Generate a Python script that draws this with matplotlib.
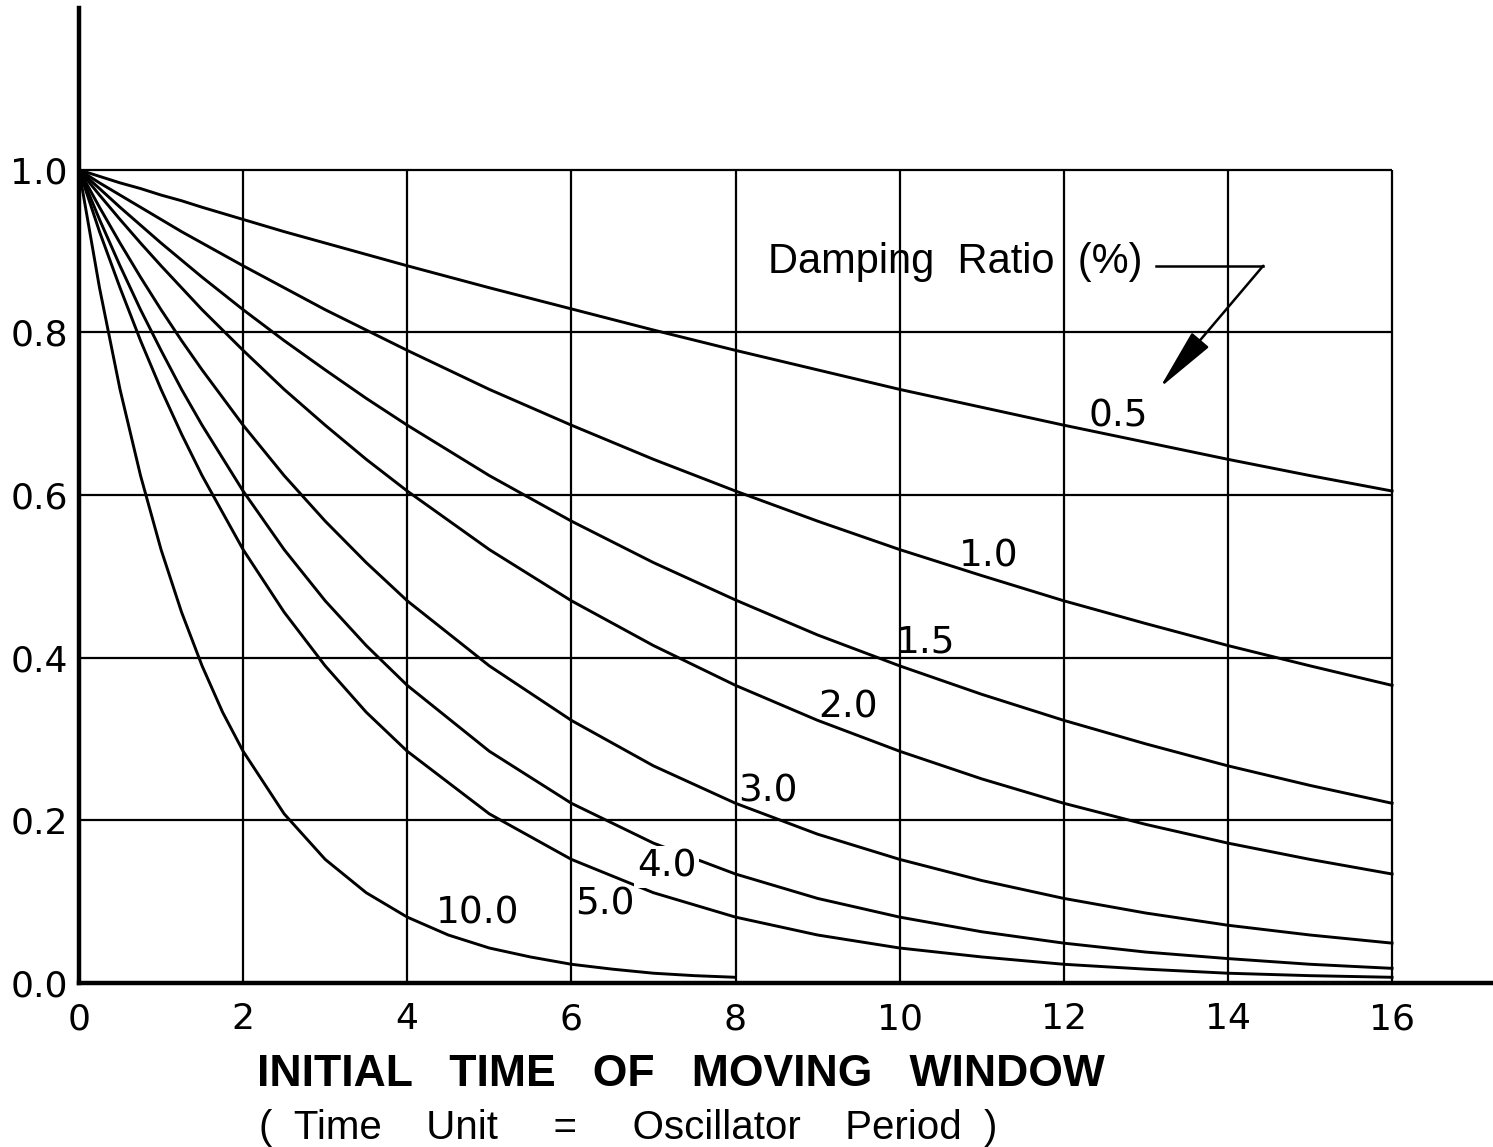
import matplotlib
matplotlib.use("Agg")
import matplotlib.pyplot as plt

# time grid (oscillator periods) and normalized curves
t = [0, 0.25, 0.5, 0.75, 1, 1.25, 1.5, 2, 2.5, 3, 3.5, 4,
     5, 6, 7, 8, 9, 10, 11, 12, 13, 14, 15, 16]
z05 = [1.000, .992, .984, .977, .969, .962, .954, .939, .924, .910, .896, .882,
       .855, .829, .803, .778, .754, .730, .708, .686, .665, .644, .624, .605]
z10 = [1.000, .984, .969, .954, .939, .924, .910, .882, .855, .828, .803, .778,
       .730, .686, .644, .605, .568, .533, .501, .470, .442, .415, .390, .366]
z15 = [1.000, .977, .954, .932, .910, .889, .868, .828, .790, .754, .719, .686,
       .624, .568, .517, .471, .428, .390, .355, .323, .294, .267, .243, .221]
z20 = [1.000, .969, .939, .910, .882, .855, .828, .778, .730, .686, .644, .605,
       .533, .470, .415, .366, .323, .285, .251, .221, .195, .172, .152, .134]
z30 = [1.000, .954, .910, .868, .828, .790, .754, .686, .624, .568, .517, .470,
       .390, .323, .267, .221, .183, .152, .126, .104, .086, .071, .059, .049]
z40 = [1.000, .939, .882, .828, .778, .730, .686, .605, .533, .470, .415, .366,
       .285, .221, .172, .134, .104, .081, .063, .049, .038, .030, .023, .018]
z50 = [1.000, .924, .855, .790, .730, .675, .624, .533, .456, .390, .333, .285,
       .208, .152, .111, .081, .059, .043, .032, .023, .017, .012, .009, .007]

t100 = [0, 0.25, 0.5, 0.75, 1, 1.25, 1.5, 1.75, 2, 2.5, 3, 3.5, 4,
        4.5, 5, 5.5, 6, 6.5, 7, 7.5, 8]
z100 = [1.000, .855, .730, .624, .533, .456, .390, .333, .285, .208, .152, .111, .081,
        .059, .043, .032, .023, .017, .012, .009, .007]

curves = [(t, z05, "0.5"), (t, z10, "1.0"), (t, z15, "1.5"), (t, z20, "2.0"),
          (t, z30, "3.0"), (t, z40, "4.0"), (t, z50, "5.0"), (t100, z100, "10.0")]

# label anchor (x, y) per curve
label_pos = {"0.5": (12.66, 0.697), "1.0": (11.08, 0.524), "1.5": (10.32, 0.419),
             "2.0": (9.37, 0.339), "3.0": (8.40, 0.236), "4.0": (7.16, 0.143),
             "5.0": (6.41, 0.097), "10.0": (4.86, 0.085)}

xticks = [0, 2, 4, 6, 8, 10, 12, 14, 16]
yticks = [0.0, 0.2, 0.4, 0.6, 0.8, 1.0]

WORD = ["Liberation Sans", "DejaVu Sans"]

fig = plt.figure(figsize=(14.93, 11.47), dpi=100)
ax = fig.add_axes([0.0529, 0.1430, 0.9471, 0.850])

# grid box
ax.vlines(xticks[1:], 0, yticks[-1], color="black", lw=1.6, zorder=1)
ax.hlines(yticks[1:], 0, xticks[-1], color="black", lw=1.6, zorder=1)

for xs, ys, name in curves:
    ax.plot(xs, ys, color="black", lw=2.1, zorder=2)
    lx, ly = label_pos[name]
    bbox = None
    if name == "4.0":
        bbox = dict(boxstyle="square,pad=0.08", fc="white", ec="none")
    ax.text(lx, ly, name, ha="center", va="center", fontsize=27,
            family="DejaVu Sans", bbox=bbox, zorder=3)

# legend title + arrow
ax.text(8.40, 0.887, "Damping  Ratio  (%)", ha="left", va="center",
        fontsize=30, family=WORD)
ax.plot([13.12, 14.43], [0.882, 0.882], color="black", lw=1.8)
ax.annotate("", xy=(13.17, 0.732), xytext=(14.43, 0.882),
            arrowprops=dict(arrowstyle="-|>,head_length=1.4,head_width=0.25",
                            color="black", lw=1.8, mutation_scale=28,
                            shrinkA=0, shrinkB=0))

ax.set_xlim(0, 17.23)
ax.set_ylim(0, 1.199)
ax.set_xticks(xticks)
ax.set_xticklabels([str(v) for v in xticks])
ax.set_yticks(yticks)
ax.set_yticklabels([f"{v:.1f}" for v in yticks])
ax.tick_params(axis="both", length=0, labelsize=26)
ax.tick_params(axis="x", pad=14)
ax.tick_params(axis="y", pad=8)
for lab in ax.get_xticklabels() + ax.get_yticklabels():
    lab.set_family("DejaVu Sans")
for s in ["top", "right"]:
    ax.spines[s].set_visible(False)
ax.spines["left"].set_linewidth(3.2)
ax.spines["bottom"].set_linewidth(3.2)

fig.text(0.456, 0.0636, "INITIAL   TIME   OF   MOVING   WINDOW", ha="center",
         va="center", fontsize=32, fontweight="bold", family=WORD)
fig.text(0.421, 0.0166, "(  Time    Unit     =     Oscillator    Period  )", ha="center",
         va="center", fontsize=29, family=WORD)

fig.savefig("out.png", dpi=100)
